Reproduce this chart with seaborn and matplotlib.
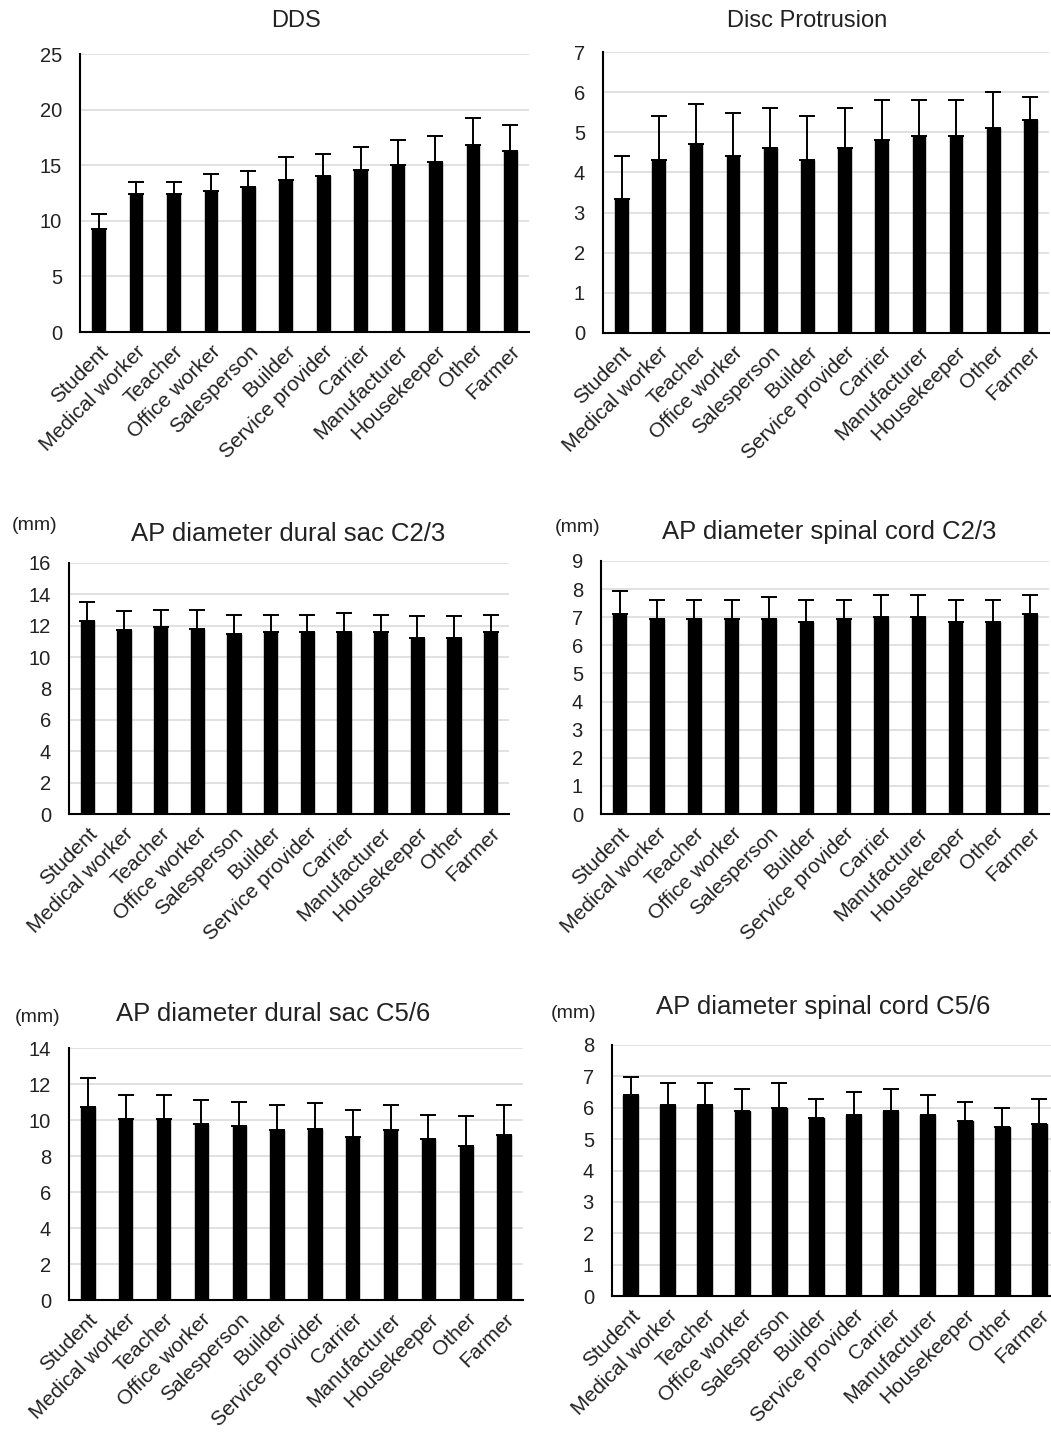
import numpy as np
import pandas as pd
import matplotlib
matplotlib.use("Agg")
import matplotlib.pyplot as plt
import seaborn as sns

categories = ["Student", "Medical worker", "Teacher", "Office worker", "Salesperson",
              "Builder", "Service provider", "Carrier", "Manufacturer", "Housekeeper",
              "Other", "Farmer"]

dds_mean = [9.3, 12.4, 12.4, 12.7, 13.0, 13.7, 14.0, 14.6, 15.0, 15.3, 16.8, 16.3]
dds_sd   = [1.3, 1.1, 1.1, 1.5, 1.5, 2.0, 2.0, 2.0, 2.3, 2.3, 2.4, 2.3]

disc_mean = [3.33, 4.3, 4.7, 4.42, 4.61, 4.3, 4.61, 4.82, 4.9, 4.9, 5.1, 5.3]
disc_sd   = [1.08, 1.1, 1.0, 1.07, 1.0, 1.1, 1.0, 0.99, 0.91, 0.91, 0.9, 0.59]

dural23_mean = [12.31, 11.72, 11.91, 11.82, 11.5, 11.59, 11.59, 11.59, 11.59, 11.21, 11.21, 11.59]
dural23_sd   = [1.21, 1.21, 1.12, 1.21, 1.21, 1.12, 1.12, 1.23, 1.12, 1.39, 1.39, 1.12]

cord23_mean = [7.11, 6.95, 6.95, 6.95, 6.95, 6.83, 6.95, 7.01, 7.01, 6.83, 6.83, 7.11]
cord23_sd   = [0.81, 0.66, 0.66, 0.66, 0.78, 0.78, 0.66, 0.77, 0.77, 0.78, 0.78, 0.67]

dural56_mean = [10.75, 10.05, 10.05, 9.79, 9.68, 9.42, 9.51, 9.05, 9.42, 8.97, 8.53, 9.16]
dural56_sd   = [1.6, 1.32, 1.32, 1.31, 1.32, 1.41, 1.41, 1.52, 1.41, 1.32, 1.67, 1.67]

cord56_mean = [6.4, 6.09, 6.09, 5.89, 5.98, 5.67, 5.78, 5.89, 5.78, 5.58, 5.38, 5.48]
cord56_sd   = [0.59, 0.71, 0.71, 0.71, 0.82, 0.62, 0.71, 0.71, 0.62, 0.6, 0.6, 0.81]

titles = ["DDS", "Disc Protrusion", "AP diameter dural sac C2/3",
          "AP diameter spinal cord C2/3", "AP diameter dural sac C5/6",
          "AP diameter spinal cord C5/6"]
units = [None, None, "(mm)", "(mm)", "(mm)", "(mm)"]
ymax = [25, 7, 16, 9, 14, 8]
ystep = [5, 1, 2, 1, 2, 1]

means = [dds_mean, disc_mean, dural23_mean, cord23_mean, dural56_mean, cord56_mean]
sds = [dds_sd, disc_sd, dural23_sd, cord23_sd, dural56_sd, cord56_sd]

sns.set_theme(style="white")
plt.rcParams["font.family"] = ["Liberation Sans", "DejaVu Sans"]

W, H = 1051, 1436
fig = plt.figure(figsize=(W / 100, H / 100), dpi=100)

# axes boxes in pixels: left, right, top, bottom
boxes = [(80, 529, 54, 332), (603, 1049, 52, 333),
         (69, 509, 563, 814), (601, 1049, 561, 814),
         (69, 523, 1048, 1300), (612, 1058, 1045, 1296)]
bar_w = [0.34, 0.34, 0.36, 0.36, 0.35, 0.40]
title_pos = [(296, 21), (807, 21), (288, 534), (829, 532), (273, 1014), (823, 1007)]
title_size = [17, 17, 18.5, 18.5, 18.5, 18.5]
unit_pos = [None, None, (35, 525), (578, 528), (38, 1018), (574, 1014)]

for i in range(6):
    l, r, t, b = boxes[i]
    ax = fig.add_axes([l / W, 1 - b / H, (r - l) / W, (b - t) / H])
    df = pd.DataFrame({"cat": categories, "val": means[i]})
    sns.barplot(data=df, x="cat", y="val", color="black", width=bar_w[i],
                errorbar=None, ax=ax, saturation=1, edgecolor="black")
    sd = np.array(sds[i])
    ax.errorbar(np.arange(len(categories)), means[i], yerr=[np.zeros_like(sd), sd],
                fmt="none", ecolor="black", elinewidth=1.4, capsize=6, capthick=1.4)
    ax.set_ylim(0, ymax[i])
    ax.set_xlim(-0.5, len(categories) - 0.5)
    ax.set_yticks(np.arange(0, ymax[i] + 0.001, ystep[i]))
    ax.yaxis.grid(True, color="#d9d9d9", lw=1.1)
    ax.set_axisbelow(True)
    for s in ["top", "right"]:
        ax.spines[s].set_visible(False)
    for s in ["left", "bottom"]:
        ax.spines[s].set_color("black")
        ax.spines[s].set_linewidth(1.5)
    ax.set_xlabel("")
    ax.set_ylabel("")
    ax.tick_params(axis="y", length=0, pad=13, labelsize=14.5, labelcolor="#222222")
    ax.tick_params(axis="x", length=0, pad=7, labelsize=15, labelcolor="#222222")
    ax.set_xticks(np.arange(len(categories)))
    ax.set_xticklabels(categories, rotation=45, ha="right", rotation_mode="anchor")
    tx, ty = title_pos[i]
    fig.text(tx / W, 1 - ty / H, titles[i], ha="center", va="center",
             fontsize=title_size[i], color="#222222")
    if units[i]:
        ux, uy = unit_pos[i]
        fig.text(ux / W, 1 - uy / H, units[i], ha="center", va="center",
                 fontsize=14, color="#222222")

fig.savefig("out.png", dpi=100, facecolor="white")
